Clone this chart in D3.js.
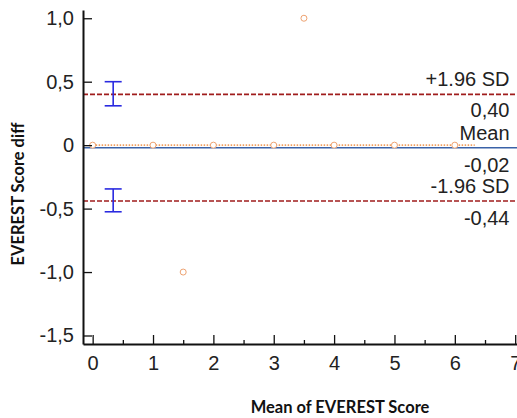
<!DOCTYPE html>
<html>
<head>
<meta charset="utf-8">
<script src="https://cdn.jsdelivr.net/npm/d3@7"></script>
<style>
  body { margin: 0; background: #fff; }
  svg { display: block; }
</style>
</head>
<body>
<div id="chart"></div>
<script>
// data
const pointMeans = [0, 1, 2, 3, 4, 5, 6, 3.5, 1.5];
const pointDiffs = [0, 0, 0, 0, 0, 0, 0, 1.0, -1.0];
const zeroLineX = [0, 6.33];
const zeroLineY = [0, 0];
const meanDiff = -0.02;
const upperLoA = 0.40;
const lowerLoA = -0.44;
const ciX = 0.34;
const upperCI = [0.31, 0.50];
const lowerCI = [-0.525, -0.345];
const xTicks = [0, 1, 2, 3, 4, 5, 6, 7];
const xMinorTicks = [0.5, 1.5, 2.5, 3.5, 4.5, 5.5, 6.5];
const yTicks = [-1.5, -1.0, -0.5, 0, 0.5, 1.0];

const width = 517, height = 418;
const margin = {top: 10, right: 0, bottom: 74, left: 83};
const w = width - margin.left - margin.right,
      h = height - margin.top - margin.bottom;
const numFont = "'Liberation Sans', Arial, sans-serif";

const svg = d3.select("#chart").append("svg")
    .attr("width", width)
    .attr("height", height);

const g = svg.append("g")
    .attr("transform", "translate(" + margin.left + "," + margin.top + ")");

const x = d3.scaleLinear().domain([-0.16, 7.03]).range([0, w]);
const y = d3.scaleLinear().domain([-1.567, 1.065]).range([h, 0]);

// comma decimals, plain hyphen for minus
const comma = (v, p) => v.toFixed(p).replace(".", ",");
const yFmt = d => d === 0 ? "0" : comma(d, 1);

// reference lines
function hline(val, color, dash) {
    g.append("line")
        .attr("x1", 0).attr("x2", w)
        .attr("y1", y(val)).attr("y2", y(val))
        .attr("stroke", color)
        .attr("stroke-width", 1.6)
        .attr("stroke-dasharray", dash);
}
hline(upperLoA, "#a01c1c", "5,2");
hline(lowerLoA, "#a01c1c", "5,2");
hline(meanDiff, "#3a62a8", null);

// dotted line along the zero diffs
g.append("path")
    .datum(zeroLineX.map((d, i) => [d, zeroLineY[i]]))
    .attr("fill", "none")
    .attr("stroke", "#f0a060")
    .attr("stroke-width", 1.6)
    .attr("stroke-dasharray", "1.5,1.5")
    .attr("d", d3.line().x(d => x(d[0])).y(d => y(d[1])));

// CI error bars
[upperCI, lowerCI].forEach(ci => {
    const eb = g.append("g").attr("stroke", "#2a2ae0").attr("stroke-width", 1.6);
    eb.append("line").attr("x1", x(ciX)).attr("x2", x(ciX))
        .attr("y1", y(ci[0])).attr("y2", y(ci[1]));
    ci.forEach(v => {
        eb.append("line").attr("x1", x(ciX) - 8.5).attr("x2", x(ciX) + 8.5)
            .attr("y1", y(v)).attr("y2", y(v));
    });
});

// points
g.selectAll("circle.pt")
    .data(pointMeans)
    .enter().append("circle")
    .attr("class", "pt")
    .attr("cx", d => x(d))
    .attr("cy", (d, i) => y(pointDiffs[i]))
    .attr("r", 3)
    .attr("fill", "#fff")
    .attr("stroke", "#eea372")
    .attr("stroke-width", 1);

// axes with inward ticks
const xAxis = g.append("g")
    .attr("transform", "translate(0," + h + ")")
    .call(d3.axisBottom(x).tickValues(xTicks).tickSizeInner(-9).tickSizeOuter(0).tickPadding(12).tickFormat(d3.format("d")));
g.append("g")
    .attr("transform", "translate(0," + h + ")")
    .call(d3.axisBottom(x).tickValues(xMinorTicks).tickSizeInner(-4).tickSizeOuter(0).tickFormat(""))
    .call(a => a.select(".domain").remove())
    .selectAll(".tick line").attr("stroke", "#111").attr("stroke-width", 1.3);

const yAxis = g.append("g")
    .call(d3.axisLeft(y).tickValues(yTicks).tickSizeInner(-9).tickSizeOuter(0).tickPadding(9).tickFormat(yFmt));

[xAxis, yAxis].forEach(a => {
    a.select(".domain").attr("stroke", "#111").attr("stroke-width", 2);
    a.selectAll(".tick line").attr("stroke", "#111").attr("stroke-width", 1.3);
    a.selectAll(".tick text")
        .style("font-family", numFont)
        .style("font-size", "20px")
        .attr("fill", "#222");
});

// labels at right end of the lines
const lbl = [
    ["+1.96 SD", upperLoA, -8],
    [comma(upperLoA, 2), upperLoA, 23],
    ["Mean", meanDiff, -8],
    [comma(meanDiff, 2), meanDiff, 24],
    ["-1.96 SD", lowerLoA, -8],
    [comma(lowerLoA, 2), lowerLoA, 24]
];
g.selectAll("text.lbl")
    .data(lbl)
    .enter().append("text")
    .attr("class", "lbl")
    .attr("x", w - 7.5)
    .attr("y", d => y(d[1]) + d[2])
    .attr("text-anchor", "end")
    .style("font-family", numFont)
    .style("font-size", "20px")
    .attr("fill", "#222")
    .text(d => d[0]);

// axis titles
svg.append("text")
    .attr("transform", "translate(24,194) rotate(-90)")
    .attr("text-anchor", "middle")
    .style("font-family", "Lato, sans-serif")
    .style("font-weight", "bold")
    .style("font-size", "16.5px")
    .attr("fill", "#111")
    .text("EVEREST Score diff");

svg.append("text")
    .attr("x", 340)
    .attr("y", 413)
    .attr("text-anchor", "middle")
    .style("font-family", "Lato, sans-serif")
    .style("font-weight", "bold")
    .style("font-size", "16.5px")
    .attr("fill", "#111")
    .text("Mean of EVEREST Score");
</script>
</body>
</html>
